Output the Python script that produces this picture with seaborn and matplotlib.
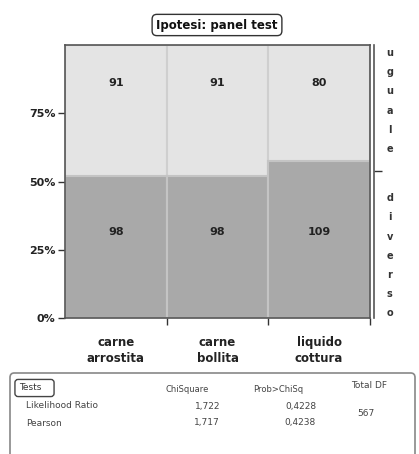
##
# Mosaic plot (JMP style): Ipotesi panel test, uguale / diverso by cottura
##

import numpy as np
import pandas as pd
import matplotlib.pyplot as plt
import seaborn as sns
from matplotlib.patches import FancyBboxPatch

# Data
categories = ["carne\narrostita", "carne\nbollita", "liquido\ncottura"]
uguale = [91, 91, 80]
diverso = [98, 98, 109]
levels = ["uguale", "diverso"]

# Test table
test_names = ["Likelihood Ratio", "Pearson"]
chi_square = ["1,722", "1,717"]
prob_chisq = ["0,4228", "0,4238"]
total_df = "567"

df = pd.DataFrame({"cottura": categories, "uguale": uguale, "diverso": diverso})
df["total"] = df["uguale"] + df["diverso"]
df["p_diverso"] = df["diverso"] / df["total"]
df["full"] = 1.0
marginal = df["diverso"].sum() / df["total"].sum()

sns.set_style("white")
plt.rcParams["font.family"] = ["DejaVu Sans"]

W, H = 419, 454
fig = plt.figure(figsize=(W / 100, H / 100), dpi=100)


def fx(x):
    return x / W


def fy(y):
    return 1 - y / H


# main axes: plot area in pixel coordinates
left, right, top, bottom = 65, 370, 45, 318
ax = fig.add_axes([fx(left), fy(bottom), fx(right) - fx(left), fy(top) - fy(bottom)])

light = "#e4e4e4"
dark = "#a9a9a9"
_ = sns.barplot(data=df, x="cottura", y="full", color=light, width=1.0,
                edgecolor="#cfcfcf", linewidth=1.5, saturation=1, ax=ax)
_ = sns.barplot(data=df, x="cottura", y="p_diverso", color=dark, width=1.0,
                edgecolor="#c4c4c4", linewidth=1.5, saturation=1, ax=ax)

ax.set_xlim(-0.5, 2.5)
ax.set_ylim(0, 1)
ax.set_xlabel("")
ax.set_ylabel("")

# counts
for i, row in df.iterrows():
    ax.text(i, 0.86, str(row["uguale"]), ha="center", va="center",
            fontsize=8, fontweight="bold", color="#222222")
    ax.text(i, 0.315, str(row["diverso"]), ha="center", va="center",
            fontsize=8, fontweight="bold", color="#222222")

ax.set_yticks([0, 0.25, 0.5, 0.75])
ax.set_yticklabels(["0%", "25%", "50%", "75%"], fontsize=8, fontweight="bold",
                   color="#222222")
ax.set_xticks([0, 1, 2])
ax.set_xticklabels(categories, fontsize=8.5, fontweight="bold", linespacing=1.25,
                   color="#222222")
ax.set_xticks([0.5, 1.5, 2.5], minor=True)
ax.tick_params(axis="x", which="major", length=0, pad=13)
ax.tick_params(axis="x", which="minor", length=5, width=1, color="#333333",
               direction="out", bottom=True)
ax.tick_params(axis="y", length=5, width=1, color="#333333", direction="out",
               left=True, pad=2)
for s in ax.spines.values():
    s.set_color("#555555")
    s.set_linewidth(1.2)

# right axis with marginal split
ax2 = ax.twinx()
ax2.set_ylim(0, 1)
ax2.set_yticks([marginal])
ax2.set_yticklabels([""])
ax2.tick_params(axis="y", length=6, width=1, color="#333333", direction="out", right=True)
ax2.spines["right"].set_position(("outward", 3))
ax2.spines["right"].set_color("#555555")
ax2.spines["right"].set_linewidth(1.2)
for side in ["top", "left", "bottom"]:
    ax2.spines[side].set_visible(False)

ax2.text(1.065, 0.795, "\n".join(levels[0]), transform=ax2.transAxes,
         ha="center", va="center", fontsize=7, fontweight="bold",
         linespacing=2.15, color="#333333")
ax2.text(1.065, 0.228, "\n".join(levels[1]), transform=ax2.transAxes,
         ha="center", va="center", fontsize=7, fontweight="bold",
         linespacing=2.15, color="#333333")

# title in rounded box
fig.text(fx(217), fy(25), "Ipotesi: panel test", ha="center", va="center",
         fontsize=8.5, fontweight="bold", color="#111111",
         bbox=dict(boxstyle="round,pad=0.35,rounding_size=0.4", fc="white",
                   ec="#333333", lw=1.0))

# test table frame
frame = FancyBboxPatch((fx(10), fy(470)), fx(405), fy(373) - fy(470),
                       boxstyle="round,pad=0,rounding_size=0.01",
                       transform=fig.transFigure, fc="white", ec="#888888", lw=1.2)
fig.patches.append(frame)

fig.text(fx(19), fy(388), "Tests   ", ha="left", va="center", fontsize=6.5, color="#333333",
         bbox=dict(boxstyle="round,pad=0.45,rounding_size=0.35", fc="white",
                   ec="#444444", lw=1.0))
fig.text(fx(187), fy(390), "ChiSquare", ha="center", va="center", fontsize=6, color="#444444")
fig.text(fx(278), fy(390), "Prob>ChiSq", ha="center", va="center", fontsize=6, color="#444444")
fig.text(fx(369), fy(386), "Total DF", ha="center", va="center", fontsize=6.5, color="#444444")
row_y = [406, 423]
for name, chi, p, y in zip(test_names, chi_square, prob_chisq, row_y):
    fig.text(fx(26), fy(y), name, ha="left", va="center", fontsize=6.5, color="#444444")
    fig.text(fx(220), fy(y), chi, ha="right", va="center", fontsize=6.5, color="#444444")
    fig.text(fx(316), fy(y), p, ha="right", va="center", fontsize=6.5, color="#444444")
fig.text(fx(366), fy(414), total_df, ha="center", va="center", fontsize=6.5, color="#444444")

plt.savefig("out.png", dpi=100)
